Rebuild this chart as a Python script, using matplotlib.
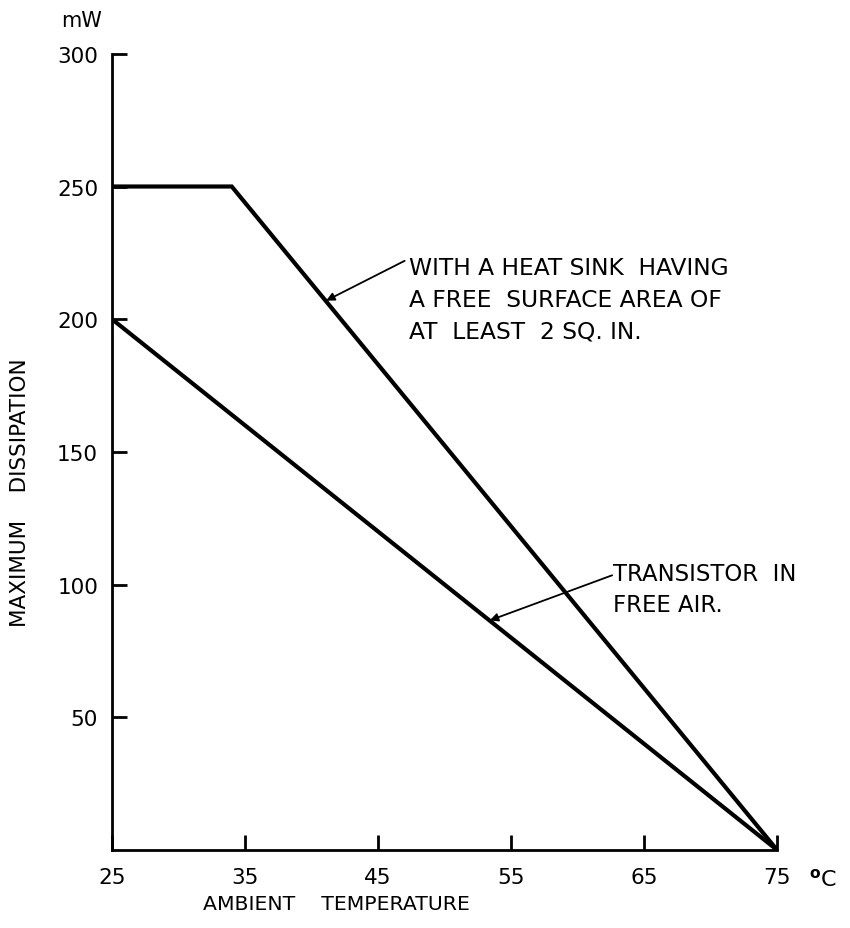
import matplotlib.pyplot as plt

# heat sink curve (flat then derating) and free-air curve
sink_temp = [25, 34, 75]
sink_mw = [250, 250, 0]
air_temp = [25, 75]
air_mw = [200, 0]

x_ticks = [25, 35, 45, 55, 65, 75]
y_ticks = [50, 100, 150, 200, 250, 300]

plt.rcParams['font.family'] = ['DejaVu Sans']

fig = plt.figure(figsize=(8.5, 9.29), dpi=100)
ax = fig.add_axes([0.1318, 0.084, 0.7824, 0.857])

ax.plot(sink_temp, sink_mw, color='black', lw=3, solid_joinstyle='miter')
ax.plot(air_temp, air_mw, color='black', lw=3)

ax.set_xlim(25, 75)
ax.set_ylim(0, 300)
ax.set_xticks(x_ticks)
ax.set_yticks(y_ticks)
ax.tick_params(direction='in', length=11, width=2, labelsize=15.5, pad=12)
ax.tick_params(axis='y', pad=10)
for s in ['top', 'right']:
    ax.spines[s].set_visible(False)
for s in ['left', 'bottom']:
    ax.spines[s].set_linewidth(2)

fig.text(0.096, 0.977, 'mW', fontsize=15, ha='center', va='center')
fig.text(0.968, 0.053, '$^{\\mathbf{o}}$C', fontsize=16, ha='center', va='center')
fig.text(0.396, 0.026, 'AMBIENT    TEMPERATURE', fontsize=14.7, ha='center', va='center')
fig.text(0.024, 0.47, 'MAXIMUM    DISSIPATION', fontsize=15.5, ha='center', va='center',
         rotation=90)

# annotation texts with leader arrows
ax.text(47.3, 224, 'WITH A HEAT SINK  HAVING\nA FREE  SURFACE AREA OF\nAT  LEAST  2 SQ. IN.',
        fontsize=16.8, va='top', ha='left', linespacing=1.5)
ax.annotate('', xy=(41.1, 207), xytext=(47.0, 222),
            arrowprops=dict(arrowstyle='-|>', color='black', lw=1.3,
                            shrinkA=0, shrinkB=0, mutation_scale=12))
ax.text(62.7, 108.5, 'TRANSISTOR  IN\nFREE AIR.',
        fontsize=16.4, va='top', ha='left', linespacing=1.45)
ax.annotate('', xy=(53.4, 86.5), xytext=(62.6, 103.5),
            arrowprops=dict(arrowstyle='-|>', color='black', lw=1.3,
                            shrinkA=0, shrinkB=0, mutation_scale=12))

fig.savefig('out.png', dpi=100)
